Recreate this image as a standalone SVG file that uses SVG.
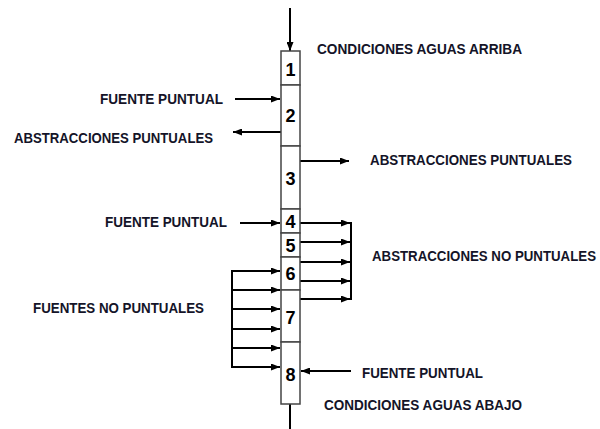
<svg xmlns="http://www.w3.org/2000/svg" width="600" height="429" viewBox="0 0 600 429">
<defs>
<marker id="ah" markerWidth="9" markerHeight="7" refX="9" refY="3.5" orient="auto" markerUnits="userSpaceOnUse">
<path d="M0,0 L9,3.5 L0,7 Z" fill="#000"/>
</marker>
</defs>
<style>
.box{fill:#fff;stroke:#444;stroke-width:1.5}
.num{font-family:"Liberation Sans",Arial,sans-serif;font-weight:bold;font-size:18px;fill:#000;text-anchor:middle}
.lbl{font-family:"Liberation Sans",Arial,sans-serif;font-weight:bold;font-size:15px;fill:#141428}
.sm{font-size:14px}
.c{fill:none;stroke:#000;stroke-width:2}
.a{fill:none;stroke:#000;stroke-width:2;marker-end:url(#ah)}
</style>
<rect width="600" height="429" fill="#fff"/>
<g id="connectors">
<line class="a" x1="290" y1="8" x2="290" y2="51"/>
<line class="c" x1="290" y1="404" x2="290" y2="429"/>
<line class="a" x1="235" y1="99" x2="280" y2="99"/>
<line class="a" x1="281" y1="132" x2="233" y2="132"/>
<line class="a" x1="300" y1="161" x2="349" y2="161"/>
<line class="a" x1="240" y1="223" x2="280" y2="223"/>
<line class="a" x1="300" y1="223" x2="350" y2="223"/>
<line class="a" x1="300" y1="242" x2="350" y2="242"/>
<line class="a" x1="300" y1="262" x2="350" y2="262"/>
<line class="a" x1="300" y1="281" x2="350" y2="281"/>
<line class="a" x1="300" y1="299" x2="350" y2="299"/>
<line class="c" x1="351" y1="222" x2="351" y2="300"/>
<line class="c" x1="232" y1="270" x2="232" y2="368"/>
<line class="a" x1="231" y1="271" x2="280" y2="271"/>
<line class="a" x1="231" y1="290" x2="280" y2="290"/>
<line class="a" x1="231" y1="309" x2="280" y2="309"/>
<line class="a" x1="231" y1="329" x2="280" y2="329"/>
<line class="a" x1="231" y1="348" x2="280" y2="348"/>
<line class="a" x1="231" y1="367" x2="280" y2="367"/>
<line class="a" x1="351" y1="371" x2="301" y2="371"/>
</g>
<g id="n1"><rect class="box" x="281" y="51" width="19" height="34"/><text class="num" x="290.5" y="76">1</text></g>
<g id="n2"><rect class="box" x="281" y="85" width="19" height="61"/><text class="num" x="290.5" y="122">2</text></g>
<g id="n3"><rect class="box" x="281" y="146" width="19" height="63"/><text class="num" x="290.5" y="185">3</text></g>
<g id="n4"><rect class="box" x="281" y="209" width="19" height="24"/><text class="num" x="290.5" y="228">4</text></g>
<g id="n5"><rect class="box" x="281" y="233" width="19" height="24"/><text class="num" x="290.5" y="252">5</text></g>
<g id="n6"><rect class="box" x="281" y="257" width="19" height="33"/><text class="num" x="290.5" y="280">6</text></g>
<g id="n7"><rect class="box" x="281" y="290" width="19" height="52"/><text class="num" x="290.5" y="324">7</text></g>
<g id="n8"><rect class="box" x="281" y="342" width="19" height="62"/><text class="num" x="290.5" y="381">8</text></g>
<g id="labels">
<text class="lbl" x="317" y="54" textLength="205" lengthAdjust="spacingAndGlyphs">CONDICIONES AGUAS ARRIBA</text>
<text class="lbl" x="100" y="104" textLength="123" lengthAdjust="spacingAndGlyphs">FUENTE PUNTUAL</text>
<text class="lbl" x="14" y="143" textLength="199" lengthAdjust="spacingAndGlyphs">ABSTRACCIONES PUNTUALES</text>
<text class="lbl" x="370" y="165" textLength="202" lengthAdjust="spacingAndGlyphs">ABSTRACCIONES PUNTUALES</text>
<text class="lbl" x="105" y="227" textLength="122" lengthAdjust="spacingAndGlyphs">FUENTE PUNTUAL</text>
<text class="lbl sm" x="372" y="261" textLength="224" lengthAdjust="spacingAndGlyphs">ABSTRACCIONES NO PUNTUALES</text>
<text class="lbl" x="33" y="313" textLength="171" lengthAdjust="spacingAndGlyphs">FUENTES NO PUNTUALES</text>
<text class="lbl" x="362" y="378" textLength="121" lengthAdjust="spacingAndGlyphs">FUENTE PUNTUAL</text>
<text class="lbl" x="324" y="410" textLength="198" lengthAdjust="spacingAndGlyphs">CONDICIONES AGUAS ABAJO</text>
</g>
</svg>
